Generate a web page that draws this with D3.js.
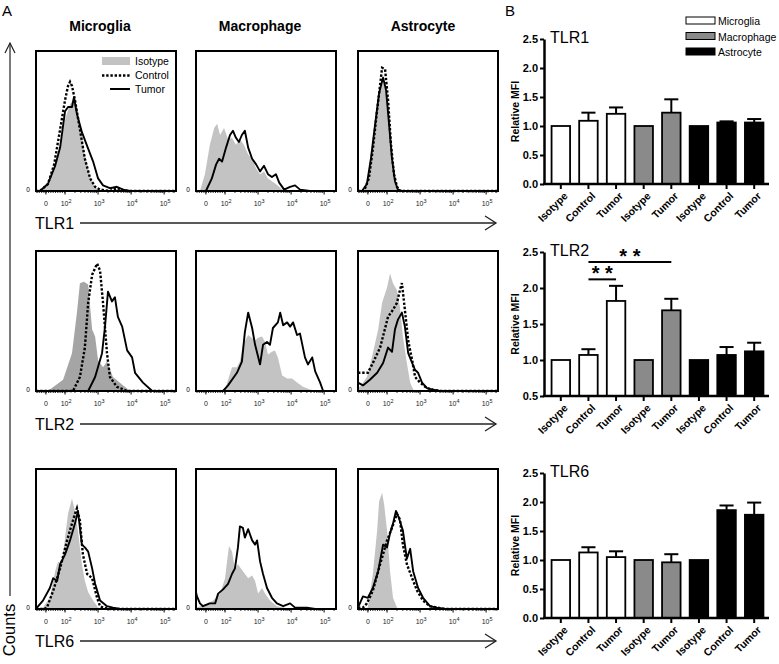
<!DOCTYPE html>
<html><head><meta charset="utf-8">
<script src="https://cdn.jsdelivr.net/npm/d3@7"></script>
<style>body{margin:0;background:#fff}svg{display:block;font-family:"Liberation Sans",Arial,sans-serif}</style>
</head><body><svg id="c" width="779" height="664"></svg>
<script>
// ---------------- DATA ----------------
const cellTypes = ["Microglia", "Macrophage", "Astrocyte"];
const receptors = ["TLR1", "TLR2", "TLR6"];
const histTickValues = [1.42, 2, 3, 4, 5];          // positions in decade units
const histTickLabels = ["0", "2", "3", "4", "5"];    // "0" then exponents of 10
const histDomain = [1.12, 5.36];

// histogram curves: [decade position, % of max count]
const tlr1MicIso  = [[1.24,0],[1.48,4],[1.70,16],[1.85,33],[2.00,51],[2.15,62],[2.24,65],[2.33,61],[2.45,48],[2.60,26],[2.76,10],[2.91,3],[3.06,0]];
const tlr1MicCtrl = [[1.24,0],[1.48,5],[1.67,19],[1.85,44],[2.00,65],[2.09,75],[2.15,78],[2.21,75],[2.30,65],[2.45,44],[2.60,23],[2.76,9],[2.91,3],[3.06,1],[3.36,0],[3.57,2],[3.70,1],[3.90,0]];
const tlr1MicTum  = [[1.24,0],[1.48,5],[1.70,18],[1.85,31],[2.00,57],[2.09,60],[2.21,60],[2.27,67],[2.36,55],[2.51,42],[2.67,32],[2.85,21],[3.00,9],[3.15,4],[3.36,2],[3.57,3],[3.76,1],[3.97,0]];
const tlr1MacIso  = [[1.24,0],[1.39,12],[1.54,33],[1.67,45],[1.76,48],[1.85,40],[1.97,45],[2.09,37],[2.21,38],[2.33,33],[2.45,37],[2.57,33],[2.70,26],[2.82,23],[2.94,16],[3.06,12],[3.18,14],[3.30,9],[3.42,7],[3.54,5],[3.73,1],[3.97,0]];
const tlr1MacTum  = [[1.42,0],[1.60,9],[1.73,19],[1.82,23],[1.91,21],[2.03,31],[2.15,40],[2.24,43],[2.33,38],[2.42,35],[2.51,40],[2.60,43],[2.70,31],[2.82,23],[2.94,19],[3.06,14],[3.18,18],[3.30,12],[3.42,10],[3.54,12],[3.64,6],[3.79,1],[3.97,3],[4.12,4],[4.27,1],[4.57,0]];
const tlr1AstIso  = [[1.30,0],[1.42,7],[1.54,26],[1.67,51],[1.79,71],[1.88,78],[1.97,70],[2.06,44],[2.15,19],[2.24,5],[2.33,0]];
const tlr1AstCtrl = [[1.30,0],[1.45,9],[1.57,30],[1.70,58],[1.79,76],[1.85,88],[1.94,87],[2.03,65],[2.12,33],[2.21,12],[2.30,3],[2.39,0]];
const tlr1AstTum  = [[1.24,0],[1.39,5],[1.51,23],[1.64,48],[1.76,70],[1.88,81],[1.97,72],[2.06,48],[2.15,23],[2.24,7],[2.33,1],[2.45,0]];

const tlr2MicIso  = [[1.39,0],[1.54,1],[1.94,8],[2.21,27],[2.36,56],[2.45,77],[2.57,78],[2.70,76],[2.82,44],[2.91,39],[3.00,22],[3.15,17],[3.27,21],[3.45,10],[3.76,4],[3.97,0]];
const tlr2MicCtrl = [[2.24,0],[2.45,10],[2.60,31],[2.70,63],[2.82,83],[2.97,91],[3.06,86],[3.15,63],[3.27,27],[3.36,10],[3.57,3],[3.88,0]];
const tlr2MicTum  = [[2.70,0],[2.91,10],[3.12,27],[3.21,46],[3.30,71],[3.42,64],[3.51,67],[3.60,53],[3.73,46],[3.88,29],[4.03,24],[4.12,13],[4.36,6],[4.64,0]];
const tlr2MacIso  = [[1.70,0],[2.00,1],[2.21,17],[2.36,17],[2.45,21],[2.54,33],[2.70,40],[2.91,36],[3.00,38],[3.12,39],[3.21,35],[3.30,26],[3.42,28],[3.51,29],[3.60,24],[3.73,11],[3.88,9],[4.03,9],[4.18,6],[4.36,3],[4.57,1],[4.82,0]];
const tlr2MacTum  = [[1.94,0],[2.09,4],[2.36,13],[2.51,21],[2.60,42],[2.70,56],[2.82,45],[2.91,33],[3.06,19],[3.15,33],[3.27,35],[3.36,33],[3.45,45],[3.60,49],[3.67,56],[3.76,47],[3.88,49],[3.97,46],[4.06,49],[4.18,40],[4.27,41],[4.42,24],[4.51,19],[4.64,24],[4.73,14],[4.88,6],[4.97,0]];
const tlr2AstIso  = [[1.12,3],[1.18,3],[1.39,10],[1.57,27],[1.73,44],[1.85,63],[2.00,74],[2.09,84],[2.18,77],[2.30,72],[2.39,60],[2.48,39],[2.60,20],[2.70,6],[2.79,1],[2.88,0]];
const tlr2AstCtrl = [[1.12,13],[1.42,13],[1.57,20],[1.79,31],[2.03,53],[2.18,58],[2.30,63],[2.39,72],[2.45,77],[2.54,58],[2.64,36],[2.76,22],[2.85,10],[3.00,6],[3.21,2],[3.39,1],[3.60,0]];
const tlr2AstTum  = [[1.12,6],[1.27,4],[1.48,8],[1.70,13],[1.88,20],[2.03,31],[2.15,28],[2.24,44],[2.33,51],[2.45,56],[2.54,46],[2.64,27],[2.76,20],[2.85,15],[2.94,13],[3.06,6],[3.21,2],[3.39,1],[3.60,0]];

const tlr6MicIso  = [[1.27,0],[1.33,1],[1.54,8],[1.70,27],[1.79,34],[1.91,32],[2.00,51],[2.09,68],[2.21,79],[2.30,70],[2.39,56],[2.51,32],[2.60,20],[2.70,12],[2.85,6],[3.00,1],[3.12,0]];
const tlr6MicCtrl = [[1.36,0],[1.45,1],[1.64,13],[1.85,29],[2.06,49],[2.21,61],[2.30,68],[2.36,72],[2.45,63],[2.54,39],[2.67,25],[2.82,22],[2.97,8],[3.06,2],[3.15,1],[3.36,0]];
const tlr6MicTum  = [[1.15,1],[1.33,6],[1.54,15],[1.64,22],[1.76,20],[1.85,32],[2.00,39],[2.15,49],[2.30,61],[2.39,70],[2.51,46],[2.60,44],[2.70,41],[2.82,29],[2.91,18],[3.06,6],[3.27,2],[3.45,1],[3.67,0]];
const tlr6MacIso  = [[1.15,1],[1.45,4],[1.64,6],[1.85,11],[2.00,22],[2.06,34],[2.12,45],[2.21,41],[2.30,29],[2.39,32],[2.54,27],[2.70,22],[2.82,24],[2.91,20],[3.00,11],[3.12,15],[3.21,11],[3.36,6],[3.57,2],[3.76,1],[3.97,0]];
const tlr6MacTum  = [[1.12,12],[1.15,9],[1.24,4],[1.33,2],[1.54,4],[1.70,4],[1.79,11],[1.94,14],[2.09,18],[2.21,25],[2.30,29],[2.39,44],[2.45,59],[2.54,58],[2.60,51],[2.70,57],[2.82,49],[2.91,46],[2.97,49],[3.06,34],[3.15,25],[3.27,15],[3.42,8],[3.57,4],[3.76,2],[3.97,4],[4.12,1],[4.48,1],[4.73,0]];
const tlr6AstIso  = [[1.27,0],[1.42,1],[1.57,25],[1.70,56],[1.76,77],[1.85,83],[1.91,75],[2.00,56],[2.09,27],[2.18,8],[2.30,1],[2.39,0]];
const tlr6AstCtrl = [[1.27,1],[1.39,4],[1.57,13],[1.79,32],[2.00,49],[2.15,58],[2.30,68],[2.39,64],[2.48,46],[2.60,32],[2.76,22],[2.91,13],[3.09,6],[3.30,2],[3.51,1],[3.76,0]];
const tlr6AstTum  = [[1.12,1],[1.27,9],[1.42,8],[1.57,15],[1.73,27],[1.88,46],[2.00,44],[2.09,54],[2.18,61],[2.27,70],[2.36,65],[2.48,56],[2.60,36],[2.70,43],[2.79,27],[2.94,15],[3.09,8],[3.30,2],[3.51,1],[3.76,0]];

// bar charts (panel B)
const barCategories = ["Isotype", "Control", "Tumor", "Isotype", "Tumor", "Isotype", "Control", "Tumor"];
const barCellType   = ["Microglia", "Microglia", "Microglia", "Macrophage", "Macrophage", "Astrocyte", "Astrocyte", "Astrocyte"];
const tlr1Means = [1.00, 1.09, 1.21, 1.00, 1.23, 1.00, 1.06, 1.06];
const tlr1Errs  = [0,    0.14, 0.11, 0,    0.23, 0,    0.02, 0.06];
const tlr2Means = [1.00, 1.07, 1.82, 1.00, 1.69, 1.00, 1.07, 1.12];
const tlr2Errs  = [0,    0.08, 0.21, 0,    0.16, 0,    0.11, 0.12];
const tlr6Means = [1.00, 1.13, 1.05, 1.00, 0.96, 1.00, 1.86, 1.78];
const tlr6Errs  = [0,    0.09, 0.10, 0,    0.14, 0,    0.08, 0.21];
const tlr1Ticks = [0, 0.5, 1.0, 1.5, 2.0, 2.5];
const tlr2Ticks = [0.5, 1.0, 1.5, 2.0, 2.5];
const tlr6Ticks = [0, 0.5, 1.0, 1.5, 2.0, 2.5];
const tlr2Sig = [{from: 1, to: 2, y: 2.12, label: "* *"}, {from: 1, to: 4, y: 2.36, label: "* *"}];
const legendLabels = ["Isotype", "Control", "Tumor"];

// ---------------- DRAW ----------------
const svg = d3.select("#c");
const F = '"Liberation Sans", Arial, sans-serif';

// Panel letters
svg.append("text").attr("x", 2).attr("y", 16).attr("font-size", 15).text("A");
svg.append("text").attr("x", 505).attr("y", 16).attr("font-size", 15).text("B");

// Column headers
const headerX = [100, 260, 423];
cellTypes.forEach((c, i) => svg.append("text").attr("x", headerX[i]).attr("y", 31)
  .attr("text-anchor", "middle").attr("font-size", 14).attr("font-weight", "bold").text(c));

// Counts arrow
svg.append("line").attr("x1", 10).attr("x2", 10).attr("y1", 43).attr("y2", 596).attr("stroke", "#222").attr("stroke-width", 1.2);
svg.append("path").attr("d", "M5,53 L10,43 L15,53").attr("fill", "none").attr("stroke", "#222").attr("stroke-width", 1.2);
svg.append("text").attr("transform", "translate(15,630) rotate(-90)").attr("text-anchor", "middle")
  .attr("font-size", 16.5).text("Counts");

// Histogram layout
const boxLeft = [36, 196, 358];
const boxTop = [51, 251, 469];
const boxW = 140, boxH = 140;
const rowArrowY = [223, 424, 641];

const panels = [
  [ {iso: tlr1MicIso, ctrl: tlr1MicCtrl, tum: tlr1MicTum, gray: "#c3c3c3"},
    {iso: tlr1MacIso, ctrl: null, tum: tlr1MacTum, gray: "#c3c3c3"},
    {iso: tlr1AstIso, ctrl: tlr1AstCtrl, tum: tlr1AstTum, gray: "#c3c3c3"} ],
  [ {iso: tlr2MicIso, ctrl: tlr2MicCtrl, tum: tlr2MicTum, gray: "#a5a5a5"},
    {iso: tlr2MacIso, ctrl: null, tum: tlr2MacTum, gray: "#c3c3c3"},
    {iso: tlr2AstIso, ctrl: tlr2AstCtrl, tum: tlr2AstTum, gray: "#c3c3c3"} ],
  [ {iso: tlr6MicIso, ctrl: tlr6MicCtrl, tum: tlr6MicTum, gray: "#c3c3c3"},
    {iso: tlr6MacIso, ctrl: null, tum: tlr6MacTum, gray: "#c3c3c3"},
    {iso: tlr6AstIso, ctrl: tlr6AstCtrl, tum: tlr6AstTum, gray: "#c3c3c3"} ]
];

// minor tick positions (decade units)
const minorTicks = [];
for (let v = 1.15; v < 2; v += 0.07) minorTicks.push(v);
for (let e = 2; e <= 5; e++) for (let k = 2; k <= 9; k++) { const v = e + Math.log10(k); if (v < histDomain[1]) minorTicks.push(v); }

panels.forEach((row, r) => {
  row.forEach((p, c) => {
    const x0 = boxLeft[c], y0 = boxTop[r];
    const g = svg.append("g");
    const x = d3.scaleLinear().domain(histDomain).range([x0, x0 + boxW]);
    const y = d3.scaleLinear().domain([0, 100]).range([y0 + boxH, y0]);
    const pad = d => [[histDomain[0], d[0][1] > 0 ? d[0][1] : 0], ...d, [histDomain[1], 0]];
    const area = d3.area().x(d => x(d[0])).y0(y(0)).y1(d => y(d[1]));
    const line = d3.line().x(d => x(d[0])).y(d => y(d[1]));
    g.append("path").attr("d", area(p.iso)).attr("fill", p.gray);
    if (p.ctrl) g.append("path").attr("d", line(pad(p.ctrl))).attr("fill", "none").attr("stroke", "#000")
      .attr("stroke-width", 2.4).attr("stroke-dasharray", "2.4,1.8");
    g.append("path").attr("d", line(pad(p.tum))).attr("fill", "none").attr("stroke", "#000")
      .attr("stroke-width", 1.9).attr("stroke-linejoin", "round");
    // box
    g.append("rect").attr("x", x0).attr("y", y0).attr("width", boxW).attr("height", boxH)
      .attr("fill", "none").attr("stroke", "#000").attr("stroke-width", 2);
    // ticks
    const bottom = y0 + boxH;
    g.selectAll(".mn").data(minorTicks).enter().append("line")
      .attr("x1", d => x(d)).attr("x2", d => x(d)).attr("y1", bottom).attr("y2", bottom + 2)
      .attr("stroke", "#000").attr("stroke-width", 0.8);
    g.selectAll(".mj").data(histTickValues).enter().append("line")
      .attr("x1", d => x(d)).attr("x2", d => x(d)).attr("y1", bottom).attr("y2", bottom + 3.5)
      .attr("stroke", "#000").attr("stroke-width", 1);
    histTickValues.forEach((v, i) => {
      const t = g.append("text").attr("x", x(v) + (i === 0 ? 0 : 1)).attr("y", bottom + 15)
        .attr("text-anchor", "middle").attr("font-size", 7).attr("fill", "#222");
      if (i === 0) t.text("0");
      else { t.append("tspan").text("10"); t.append("tspan").attr("dy", -3.5).attr("font-size", 5.5).text(histTickLabels[i]); }
    });
    g.append("text").attr("x", x0 - 8).attr("y", bottom + 1).attr("font-size", 6.5).attr("text-anchor", "middle").text("0");
  });
  // receptor axis arrow
  const ay = rowArrowY[r];
  svg.append("text").attr("x", 35).attr("y", ay + 6).attr("font-size", 16).text(receptors[r]);
  svg.append("line").attr("x1", 80).attr("x2", 496).attr("y1", ay).attr("y2", ay).attr("stroke", "#222").attr("stroke-width", 1.3);
  svg.append("path").attr("d", `M485,${ay - 7} L496,${ay} L485,${ay + 7}`).attr("fill", "none").attr("stroke", "#222").attr("stroke-width", 1.3);
});

// Histogram legend
{
  const lx = 102;
  svg.append("rect").attr("x", lx).attr("y", 57).attr("width", 28).attr("height", 8).attr("fill", "#c3c3c3");
  svg.append("line").attr("x1", lx).attr("x2", lx + 28).attr("y1", 75.5).attr("y2", 75.5).attr("stroke", "#000").attr("stroke-width", 2.4).attr("stroke-dasharray", "2.4,1.8");
  svg.append("line").attr("x1", lx + 8).attr("x2", lx + 28).attr("y1", 89).attr("y2", 89).attr("stroke", "#000").attr("stroke-width", 2);
  legendLabels.forEach((l, i) => svg.append("text").attr("x", 135).attr("y", 65 + i * 14).attr("font-size", 10.5).text(l));
}

// ---------------- Bar charts ----------------
const fillFor = {Microglia: "#ffffff", Macrophage: "#8a8a8a", Astrocyte: "#000000"};
const charts = [
  {name: "TLR1", means: tlr1Means, errs: tlr1Errs, ticks: tlr1Ticks, domain: [0, 2.5], top: 39, bottom: 184, sig: []},
  {name: "TLR2", means: tlr2Means, errs: tlr2Errs, ticks: tlr2Ticks, domain: [0.5, 2.5], top: 252, bottom: 396, sig: tlr2Sig},
  {name: "TLR6", means: tlr6Means, errs: tlr6Errs, ticks: tlr6Ticks, domain: [0, 2.5], top: 473, bottom: 618, sig: []}
];
const axisX = 544, axisRight = 769;
const xb = d3.scaleBand().domain(d3.range(barCategories.length)).range([547, 768]).paddingInner(0.33).paddingOuter(0.165);

charts.forEach(ch => {
  const g = svg.append("g");
  const y = d3.scaleLinear().domain(ch.domain).range([ch.bottom, ch.top]);
  const bw = xb.bandwidth();
  // bars
  g.selectAll(".bar").data(ch.means).enter().append("rect")
    .attr("x", (d, i) => xb(i)).attr("width", bw)
    .attr("y", d => y(d)).attr("height", d => y(ch.domain[0]) - y(d))
    .attr("fill", (d, i) => fillFor[barCellType[i]]).attr("stroke", "#000").attr("stroke-width", 1.8);
  // error bars
  ch.means.forEach((m, i) => {
    if (!ch.errs[i]) return;
    const cx = xb(i) + bw / 2;
    g.append("line").attr("x1", cx).attr("x2", cx).attr("y1", y(m)).attr("y2", y(m + ch.errs[i])).attr("stroke", "#000").attr("stroke-width", 2);
    g.append("line").attr("x1", cx - bw * 0.38).attr("x2", cx + bw * 0.38).attr("y1", y(m + ch.errs[i])).attr("y2", y(m + ch.errs[i])).attr("stroke", "#000").attr("stroke-width", 2);
  });
  // y axis
  const ya = g.append("g").attr("transform", `translate(${axisX},0)`)
    .call(d3.axisLeft(y).tickValues(ch.ticks).tickSize(4).tickSizeOuter(0).tickFormat(d3.format(".1f")));
  ya.select(".domain").attr("stroke-width", 2.5);
  ya.selectAll(".tick line").attr("stroke-width", 2);
  ya.selectAll("text").attr("font-family", F).attr("font-size", 11).attr("font-weight", "bold").attr("fill", "#000").attr("x", -6);
  // x axis
  g.append("line").attr("x1", axisX - 1).attr("x2", axisRight).attr("y1", ch.bottom).attr("y2", ch.bottom).attr("stroke", "#000").attr("stroke-width", 2.5);
  barCategories.forEach((c, i) => {
    const cx = xb(i) + bw / 2;
    g.append("line").attr("x1", cx).attr("x2", cx).attr("y1", ch.bottom).attr("y2", ch.bottom + 5).attr("stroke", "#000").attr("stroke-width", 2);
    g.append("text").attr("transform", `translate(${cx + 5},${ch.bottom + 10}) rotate(-45)`)
      .attr("text-anchor", "end").attr("dy", "0.35em").attr("font-size", 10.5).attr("font-weight", "bold").text(c);
  });
  // y label
  g.append("text").attr("transform", `translate(519,${(ch.top + ch.bottom) / 2}) rotate(-90)`)
    .attr("text-anchor", "middle").attr("font-size", 10.5).attr("font-weight", "bold").text("Relative MFI");
  // title
  g.append("text").attr("x", 550).attr("y", ch.top + 4).attr("font-size", 16).text(ch.name);
  // significance
  ch.sig.forEach(s => {
    const x1 = xb(s.from) + bw / 2, x2 = xb(s.to) + bw / 2, yy = y(s.y);
    g.append("line").attr("x1", x1).attr("x2", x2).attr("y1", yy).attr("y2", yy).attr("stroke", "#000").attr("stroke-width", 2);
    g.append("text").attr("x", (x1 + x2) / 2).attr("y", yy + 1).attr("text-anchor", "middle").attr("font-size", 20).attr("font-weight", "bold").text(s.label);
  });
});

// Bar legend
cellTypes.forEach((c, i) => {
  svg.append("rect").attr("x", 686).attr("y", 17 + i * 15.5).attr("width", 29).attr("height", 7)
    .attr("fill", fillFor[c]).attr("stroke", "#000").attr("stroke-width", 1);
  svg.append("text").attr("x", 718).attr("y", 25 + i * 15.5).attr("font-size", 10.5).text(c);
});
</script></body></html>
